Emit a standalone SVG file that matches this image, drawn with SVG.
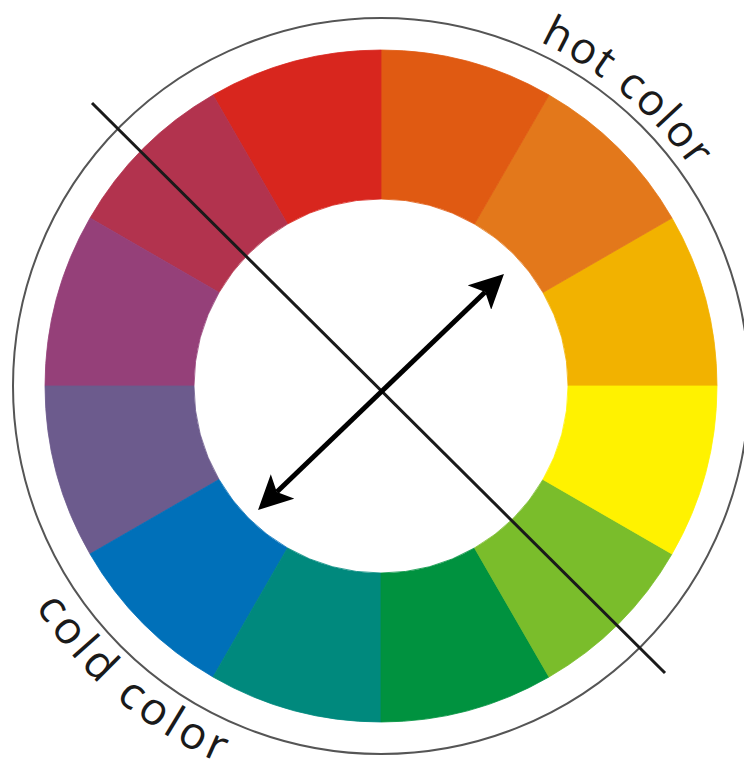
<svg xmlns="http://www.w3.org/2000/svg" width="744" height="765" viewBox="0 0 744 765">
<style>
.seg{stroke-width:0.8}
.lbl{font-family:"Open Sans","Noto Sans",sans-serif;font-size:44px;fill:#1a1a1a;letter-spacing:2px}
.cold{font-size:45px;letter-spacing:4.5px}
</style>
<defs>
<marker id="ah" viewBox="0 0 34 34" refX="8" refY="17" markerWidth="34" markerHeight="34" markerUnits="userSpaceOnUse" orient="auto-start-reverse">
<path d="M0,0 L34,17 L0,34 L8,17 Z" fill="#000"/>
</marker>
<path id="hotArc" d="M446.8,12.8 A379,379 0 0 1 737.1,256.4"/>
<path id="coldArc" d="M9.4,559.3 A410,410 0 0 0 274.9,782"/>
</defs>
<rect width="744" height="765" fill="#fff"/>
<circle cx="381" cy="386" r="368" fill="none" stroke="#555" stroke-width="2"/>
<g id="seg-amber"><path class="seg" fill="#F2B200" stroke="#F2B200" d="M717,386 A336,336 0 0 0 671.98,218 L542.95,292.5 A187,187 0 0 1 568,386 Z"/></g>
<g id="seg-orange"><path class="seg" fill="#E3781B" stroke="#E3781B" d="M671.98,218 A336,336 0 0 0 549,95.02 L474.5,224.05 A187,187 0 0 1 542.95,292.5 Z"/></g>
<g id="seg-redorange"><path class="seg" fill="#E05A12" stroke="#E05A12" d="M549,95.02 A336,336 0 0 0 381,50 L381,199 A187,187 0 0 1 474.5,224.05 Z"/></g>
<g id="seg-red"><path class="seg" fill="#D8261E" stroke="#D8261E" d="M381,50 A336,336 0 0 0 213,95.02 L287.5,224.05 A187,187 0 0 1 381,199 Z"/></g>
<g id="seg-crimson"><path class="seg" fill="#B2334E" stroke="#B2334E" d="M213,95.02 A336,336 0 0 0 90.02,218 L219.05,292.5 A187,187 0 0 1 287.5,224.05 Z"/></g>
<g id="seg-purple"><path class="seg" fill="#954079" stroke="#954079" d="M90.02,218 A336,336 0 0 0 45,386 L194,386 A187,187 0 0 1 219.05,292.5 Z"/></g>
<g id="seg-violet"><path class="seg" fill="#6C5B8D" stroke="#6C5B8D" d="M45,386 A336,336 0 0 0 90.02,554 L219.05,479.5 A187,187 0 0 1 194,386 Z"/></g>
<g id="seg-blue"><path class="seg" fill="#0070B9" stroke="#0070B9" d="M90.02,554 A336,336 0 0 0 213,676.98 L287.5,547.95 A187,187 0 0 1 219.05,479.5 Z"/></g>
<g id="seg-teal"><path class="seg" fill="#00897D" stroke="#00897D" d="M213,676.98 A336,336 0 0 0 381,722 L381,573 A187,187 0 0 1 287.5,547.95 Z"/></g>
<g id="seg-green"><path class="seg" fill="#00923F" stroke="#00923F" d="M381,722 A336,336 0 0 0 549,676.98 L474.5,547.95 A187,187 0 0 1 381,573 Z"/></g>
<g id="seg-lime"><path class="seg" fill="#7ABD2B" stroke="#7ABD2B" d="M549,676.98 A336,336 0 0 0 671.98,554 L542.95,479.5 A187,187 0 0 1 474.5,547.95 Z"/></g>
<g id="seg-yellow"><path class="seg" fill="#FFF200" stroke="#FFF200" d="M671.98,554 A336,336 0 0 0 717,386 L568,386 A187,187 0 0 1 542.95,479.5 Z"/></g>
<g id="connectors">
<line x1="92" y1="103" x2="665" y2="673" stroke="#1a1a1a" stroke-width="3"/>
<line x1="276.8" y1="492" x2="485.2" y2="292" stroke="#000" stroke-width="5" marker-start="url(#ah)" marker-end="url(#ah)"/>
</g>
<g id="label-hot"><text class="lbl"><textPath href="#hotArc" startOffset="50%" text-anchor="middle">hot color</textPath></text></g>
<g id="label-cold"><text class="lbl cold"><textPath href="#coldArc" startOffset="50%" text-anchor="middle">cold color</textPath></text></g>
</svg>
